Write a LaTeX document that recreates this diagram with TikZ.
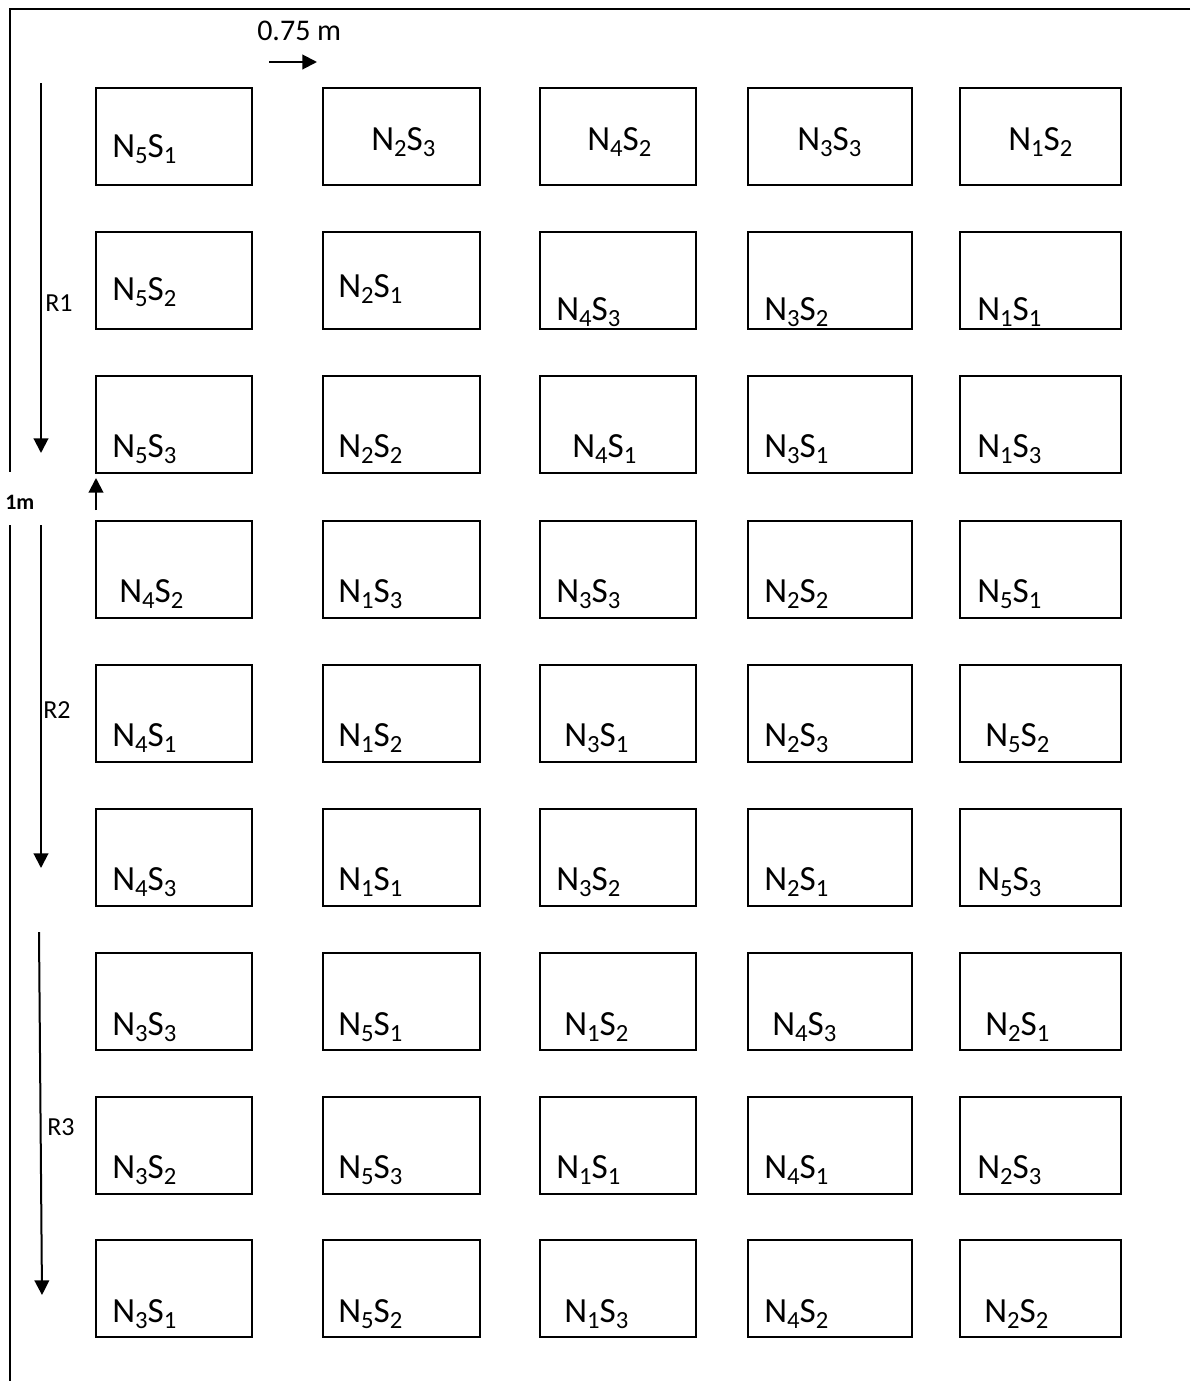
\documentclass[tikz,border=0pt]{standalone}
\usepackage{fontspec}
\setmainfont{Carlito}
\usepackage{tikz}
\usetikzlibrary{arrows.meta,positioning}
\newcommand\plotsub[1]{\raisebox{-4.5pt}{\fontsize{18.5}{20}\selectfont#1}}
\tikzset{
  plotbox/.style={
    draw,
    line width=1.6pt,
    inner sep=0pt,
    outer sep=0pt,
    anchor=north west,
    minimum height=72.75pt
  },
  plotname/.style={inner sep=0pt, anchor=base west, font=\fontsize{26.5}{30}\selectfont},
  repname/.style={inner sep=0pt, anchor=base west, font=\fontsize{19.5}{22}\selectfont},
  gapname/.style={inner sep=0pt, anchor=base west, font=\fontsize{22.5}{26}\selectfont},
  fieldedge/.style={line width=1.6pt},
  repflow/.style={-{Triangle[length=11pt,width=11pt]}, line width=1.5pt}
}

\begin{document}
\begin{tikzpicture}[x=0.75pt, y=-0.75pt]
  \useasboundingbox (0,0) rectangle (1190,1381);

  % field border
  \coordinate (edgeR) at (1190,9);
  \coordinate (edgeTL) at (10,9);
  \coordinate (edgeGapT) at (10,472);
  \coordinate (edgeGapB) at (10,525);
  \coordinate (edgeBot) at (10,1381);
  \draw[fieldedge] (edgeR) -- (edgeTL) -- (edgeGapT);
  \draw[fieldedge] (edgeGapB) -- (edgeBot);

  % plots
  \foreach \row/\top/\cells in {
    1/88/{112/157/5/1,371/150/2/3,587/150/4/2,797/150/3/3,1008/150/1/2},
    2/232/{112/300/5/2,338/297/2/1,556/320/4/3,764/320/3/2,977/320/1/1},
    3/376/{112/457/5/3,338/457/2/2,572/457/4/1,764/457/3/1,977/457/1/3},
    4/521/{119/602/4/2,338/602/1/3,556/602/3/3,764/602/2/2,977/602/5/1},
    5/665/{112/746/4/1,338/746/1/2,564/746/3/1,764/746/2/3,985/746/5/2},
    6/809/{112/890/4/3,338/890/1/1,556/890/3/2,764/890/2/1,977/890/5/3},
    7/953/{112/1035/3/3,338/1035/5/1,564/1035/1/2,772/1035/4/3,985/1035/2/1},
    8/1097/{112/1178/3/2,338/1178/5/3,556/1178/1/1,764/1178/4/1,977/1178/2/3},
    9/1240/{112/1322/3/1,338/1322/5/2,564/1322/1/3,764/1322/4/2,984/1322/2/2}}
  {
    \foreach \lx/\by/\n/\s [count=\col] in \cells {
      \pgfmathsetmacro\xl{{96,323,540,748,960}[\col-1]}
      \pgfmathsetmacro\xr{{252,480,696,912,1121}[\col-1]}
      \node[plotbox, minimum width={0.75pt*(\xr-\xl)}] (p\row\col) at (\xl,\top) {};
      \node[plotname] (t\row\col) at (\lx,\by) {N\plotsub{\n}S\plotsub{\s}};
    }
  }

  % replications
  \coordinate (r1a) at (41,83);
  \coordinate (r1b) at (41,453);
  \coordinate (r2a) at (41,525);
  \coordinate (r2b) at (41,868);
  \coordinate (r3a) at (39,932);
  \coordinate (r3b) at (42,1295);
  \draw[repflow] (r1a) -- (r1b);
  \draw[repflow] (r2a) -- (r2b);
  \draw[repflow] (r3a) -- (r3b);
  \node[repname] (rep1) at (45,311) {R1};
  \node[repname] (rep2) at (43,718) {R2};
  \node[repname] (rep3) at (47,1135) {R3};

  % spacing
  \coordinate (colgapA) at (269,62);
  \coordinate (colgapB) at (317,62);
  \draw[repflow] (colgapA) -- (colgapB);
  \node[gapname] (colgap) at (257,40) {0.75 m};
  \coordinate (rowgapA) at (96,510);
  \coordinate (rowgapB) at (96,478);
  \draw[repflow] (rowgapA) -- (rowgapB);
  \node[inner sep=0pt, anchor=base west, font=\fontsize{16.5}{19}\selectfont\bfseries] (rowgap) at (5,509) {1m};
\end{tikzpicture}
\end{document}
